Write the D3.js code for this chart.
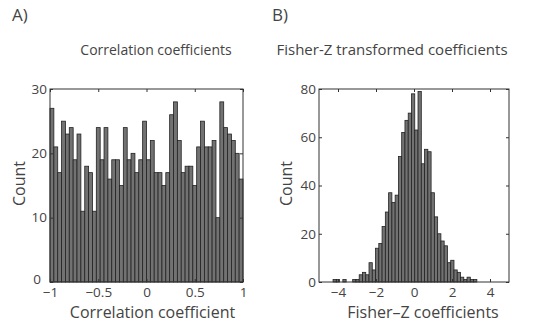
<!DOCTYPE html>
<html>
<head>
<meta charset="utf-8">
<script src="https://cdn.jsdelivr.net/npm/d3@7"></script>
<style>
  body { margin: 0; background: #fff; }
  text { font-family: "Open Sans", "Liberation Sans", sans-serif; fill: #444; }
</style>
</head>
<body>
<div id="chart"></div>
<script>
// Panel A: correlation coefficients, 50 bins from -1 to 1
var corrBinStart = -1;
var corrBinWidth = 0.04;
var corrCounts = [27, 21, 17, 25, 23, 24, 19, 23, 11, 18,
    17, 11, 24, 19, 24, 16, 19, 19, 15, 24,
    19, 20, 17, 19, 25, 19, 22, 17, 17, 15,
    17, 26, 28, 22, 17, 18, 18, 15, 21, 25,
    21, 21, 22, 10, 28, 24, 23, 22, 20, 16];
var corrXTicks = [-1, -0.5, 0, 0.5, 1];
var corrYTicks = [0, 10, 20, 30];

// Panel B: Fisher-Z transformed coefficients
var fisherBinStart = -4.26;
var fisherBinWidth = 0.172;
var fisherCounts = [1, 1, 0, 1, 0, 0, 1, 1, 3, 4, 3,
    8, 5, 14, 16, 23, 29, 37, 33, 36, 52, 62, 67, 70, 78, 63, 79,
    49, 55, 54, 37, 27, 20, 17, 15, 8, 9, 5, 4, 2, 1, 2, 1, 1];
var fisherXTicks = [-4, -2, 0, 2, 4];
var fisherYTicks = [0, 20, 40, 60, 80];

var width = 543, height = 323;

var svg = d3.select("#chart")
    .append("svg")
    .attr("width", width)
    .attr("height", height);

function fmt(v) {
    return String(v).replace("-", "\u2212");
}

function drawPanel(opts) {
    var x = d3.scaleLinear().domain(opts.xDomain).range([opts.left, opts.right]);
    var y = d3.scaleLinear().domain(opts.yDomain).range([opts.bottom, opts.top]);

    var bins = opts.counts.map(function (c, i) {
        return { x0: opts.binStart + i * opts.binWidth, x1: opts.binStart + (i + 1) * opts.binWidth, count: c };
    }).filter(function (d) { return d.count > 0; });

    // bars
    svg.append("g")
        .selectAll("rect")
        .data(bins)
        .enter()
        .append("rect")
        .attr("x", function (d) { return x(d.x0); })
        .attr("width", function (d) { return x(d.x1) - x(d.x0); })
        .attr("y", function (d) { return y(d.count); })
        .attr("height", function (d) { return y(0) - y(d.count); })
        .attr("fill", "#727272")
        .attr("stroke", "#222")
        .attr("stroke-width", 0.8);

    // axes, ticks pointing inward
    var gx = svg.append("g")
        .attr("transform", "translate(0," + opts.bottom + ")")
        .call(d3.axisBottom(x).tickValues(opts.xTicks).tickSizeInner(-3).tickSizeOuter(0).tickPadding(5).tickFormat(fmt));
    var gy = svg.append("g")
        .attr("transform", "translate(" + opts.left + ",0)")
        .call(d3.axisLeft(y).tickValues(opts.yTicks).tickSizeInner(-3).tickSizeOuter(0).tickPadding(3));
    svg.append("g")
        .attr("transform", "translate(0," + opts.top + ")")
        .call(d3.axisTop(x).tickValues(opts.xTicks).tickSizeInner(-3).tickSizeOuter(0).tickFormat(""));
    svg.append("g")
        .attr("transform", "translate(" + opts.right + ",0)")
        .call(d3.axisRight(y).tickValues(opts.yTicks).tickSizeInner(-3).tickSizeOuter(0).tickFormat(""));

    svg.selectAll(".domain").remove();
    svg.selectAll(".tick line").attr("stroke", "#333");
    [gx, gy].forEach(function (g) {
        g.selectAll("text")
            .style("font-size", "13.5px")
            .style("font-family", "'Open Sans', sans-serif")
            .attr("fill", "#444");
    });
    // nudge the zero count label so it sits clear of the x labels
    gy.selectAll(".tick")
        .filter(function (d) { return d === 0; })
        .select("text")
        .attr("x", opts.zeroX)
        .attr("dy", opts.zeroDy);

    // box
    svg.append("rect")
        .attr("x", opts.left)
        .attr("y", opts.top)
        .attr("width", opts.right - opts.left)
        .attr("height", opts.bottom - opts.top)
        .attr("fill", "none")
        .attr("stroke", "#333")
        .attr("stroke-width", 1);

    // labels
    svg.append("text")
        .attr("x", opts.letterX)
        .attr("y", 21)
        .style("font-size", "17px")
        .text(opts.letter);
    svg.append("text")
        .attr("x", opts.titleX)
        .attr("y", 55)
        .attr("text-anchor", "middle")
        .style("font-size", opts.titleSize)
        .text(opts.title);
    svg.append("text")
        .attr("x", (opts.left + opts.right) / 2 + opts.xLabelShift)
        .attr("y", 318)
        .attr("text-anchor", "middle")
        .style("font-size", "16px")
        .text(opts.xLabel);
    svg.append("text")
        .attr("transform", "translate(" + opts.yLabelX + "," + ((opts.top + opts.bottom) / 2 - 2) + ") rotate(-90)")
        .attr("text-anchor", "middle")
        .style("font-size", "16px")
        .text("Count");
}

drawPanel({
    left: 50, right: 243, top: 89, bottom: 282,
    xDomain: [-1, 1], yDomain: [0, 30],
    binStart: corrBinStart, binWidth: corrBinWidth, counts: corrCounts,
    xTicks: corrXTicks, yTicks: corrYTicks,
    letter: "A)", letterX: 12,
    title: "Correlation coefficients", titleX: 156, titleSize: "14px",
    xLabel: "Correlation coefficient", xLabelShift: 6,
    yLabelX: 25, zeroX: -9, zeroDy: "0.1em"
});

drawPanel({
    left: 319, right: 509, top: 89, bottom: 282,
    xDomain: [-5, 5], yDomain: [0, 80],
    binStart: fisherBinStart, binWidth: fisherBinWidth, counts: fisherCounts,
    xTicks: fisherXTicks, yTicks: fisherYTicks,
    letter: "B)", letterX: 272,
    title: "Fisher-Z transformed coefficients", titleX: 392, titleSize: "15px",
    xLabel: "Fisher\u2013Z coefficients", xLabelShift: 9,
    yLabelX: 292, zeroX: -3, zeroDy: "0.32em"
});
</script>
</body>
</html>
